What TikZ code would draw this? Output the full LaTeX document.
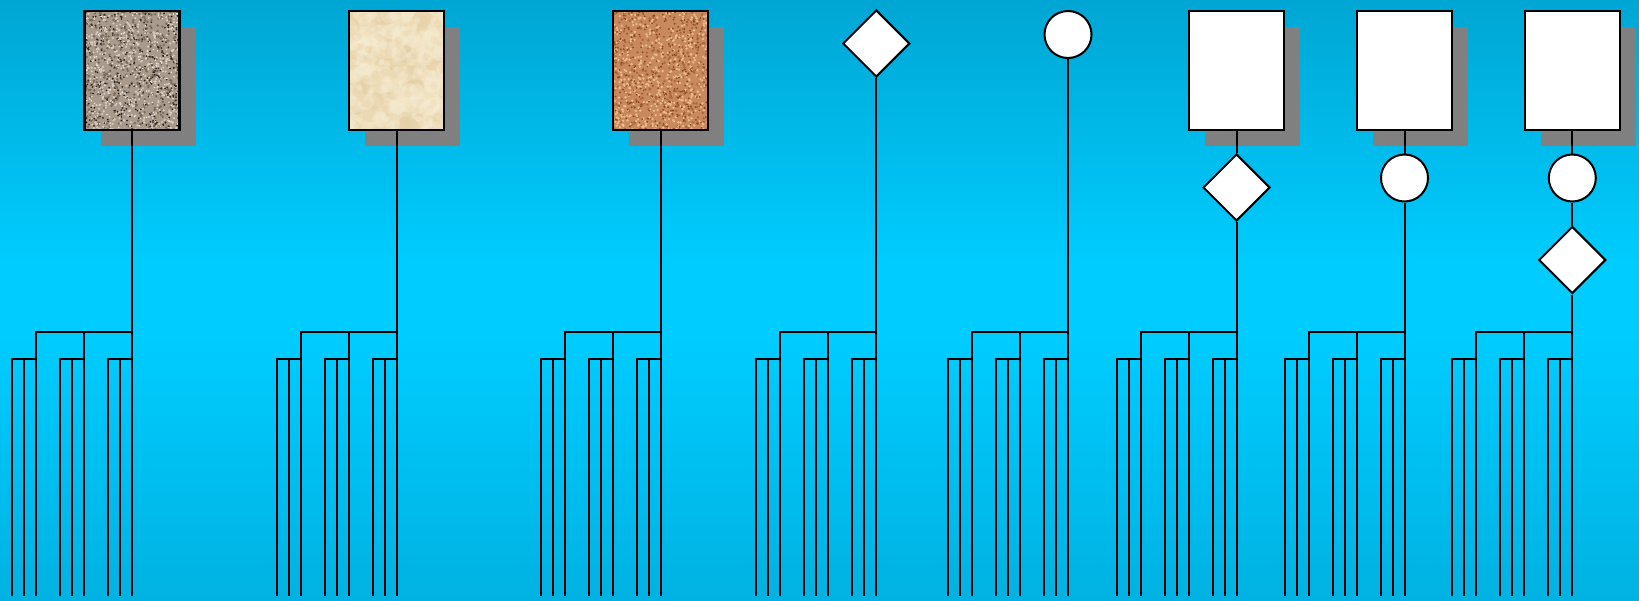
\documentclass[tikz,border=0pt]{standalone}
\usetikzlibrary{shapes.geometric,shadows}

\definecolor{bgtop}{HTML}{00A6D3}
\definecolor{bgmid}{HTML}{00CCFF}
\definecolor{bgbot}{HTML}{00B2E2}
\definecolor{shadowgray}{HTML}{808080}
% granite
\definecolor{grBase}{HTML}{A89A8C}
\definecolor{grDark}{HTML}{2E2620}
\definecolor{grMid}{HTML}{7A6A5C}
\definecolor{grLight}{HTML}{D8CCBE}
\definecolor{grWhite}{HTML}{EEE8E0}
% parchment
\definecolor{paBase}{HTML}{EFE0BE}
\definecolor{paLight}{HTML}{F7EDD4}
\definecolor{paDark}{HTML}{E2CDA2}
\definecolor{paWarm}{HTML}{ECD2A8}
% cork
\definecolor{coBase}{HTML}{C8895C}
\definecolor{coDark}{HTML}{8B4A25}
\definecolor{coMid}{HTML}{A9663C}
\definecolor{coLight}{HTML}{EBBB8C}

% sky background: brightest a little above the middle
\pgfdeclareverticalshading{skyshade}{100bp}{%
  color(0bp)=(bgbot); color(25bp)=(bgbot); color(47bp)=(bgmid);
  color(53bp)=(bgmid); color(75bp)=(bgtop); color(100bp)=(bgtop)}

% random speckles inside the current path picture
\newcommand\speckle[4][1]{%
  \foreach \k in {1,...,#2}{%
    \pgfmathsetmacro\rx{98*rnd}%
    \pgfmathsetmacro\ry{122*rnd}%
    \fill[#3, opacity=#1] ([shift={(\rx,\ry)}]path picture bounding box.north west) circle (#4);
  }}

% dendrogram hanging below a root at x = #2
\newcommand\dendro[3]{%
  % #1 name, #2 root x, #3 node above the root
  \coordinate (#1-j0) at (#2,332);
  \coordinate (#1-j1) at (#2-48,332);
  \coordinate (#1-j2) at (#2-96,332);
  \coordinate (#1-end) at (#2,596);
  \draw[link] (#3.south) -- (#1-end);
  \draw[link] (#1-j2 |- #1-end) -- (#1-j2) -- (#1-j0);
  \draw[link] (#1-j1) -- (#1-j1 |- #1-end);
  \foreach \g in {0,1,2}{%
    \coordinate (#1-h\g) at (#2-48*\g,359);
    \coordinate (#1-a\g) at (#2-48*\g-24,359);
    \coordinate (#1-b\g) at (#2-48*\g-12,359);
    \draw[link] (#1-a\g |- #1-end) -- (#1-a\g) -- (#1-h\g);
    \draw[link] (#1-b\g) -- (#1-b\g |- #1-end);
  }}

\tikzset{
  link/.style={line width=2pt, black},
  card/.style={rectangle, draw=black, line width=2.4pt, minimum width=95pt,
    minimum height=118.5pt, inner sep=0pt,
    drop shadow={shadow xshift=16pt, shadow yshift=-16pt, fill=shadowgray, opacity=1}},
  plain/.style={card, fill=white},
  granite/.style={card, fill=grBase, path picture={%
    \pgfmathsetseed{11}%
    \speckle{500}{grMid}{1.3}\speckle{450}{grLight}{1.2}%
    \speckle{340}{grDark}{0.95}\speckle{200}{grWhite}{0.8}}},
  parchment/.style={card, fill=paBase, path picture={%
    \pgfmathsetseed{22}%
    \speckle[0.35]{60}{paDark}{9}\speckle[0.4]{70}{paLight}{8}%
    \speckle[0.3]{120}{paWarm}{4}\speckle[0.3]{150}{paLight}{3}}},
  cork/.style={card, fill=coBase, path picture={%
    \pgfmathsetseed{33}%
    \speckle{400}{coMid}{1.3}\speckle{500}{coLight}{1.3}\speckle{300}{coDark}{1}}},
  gem/.style={diamond, draw=black, fill=white, line width=2pt, minimum width=67pt,
    minimum height=67pt, inner sep=0pt},
  dot/.style={circle, draw=black, fill=white, line width=2pt, minimum size=47pt,
    inner sep=0pt},
}

\begin{document}
\begin{tikzpicture}[x=1pt,y=-1pt]
  \useasboundingbox (0,0) rectangle (1639,600);
  \shade[shading=skyshade] (0,0) rectangle (1639,600);

  % top shapes
  \node[granite]   (s1) at (132,70.5) {};
  \node[parchment] (s2) at (396.5,70.5) {};
  \node[cork]      (s3) at (660.5,70.5) {};
  \node[gem]       (s4) at (876.3,43.5) {};
  \node[dot]       (s5) at (1068,34.5) {};

  \node[plain] (s6) at (1236.5,70.5) {};
  \node[plain] (s7) at (1404.5,70.5) {};
  \node[plain] (s8) at (1572.3,70.5) {};

  % intermediate shapes
  \node[gem] (s6d) at (1236.5,187.5) {};
  \node[dot] (s7c) at (1404.5,178) {};
  \node[dot] (s8c) at (1572.3,178) {};
  \node[gem] (s8d) at (1572.3,260) {};

  \draw[link] (s6.south) -- (s6d.north);
  \draw[link] (s7.south) -- (s7c.north);
  \draw[link] (s8.south) -- (s8c.north);
  \draw[link] (s8c.south) -- (s8d.north);

  % dendrograms
  \dendro{t1}{132}{s1}
  \dendro{t2}{396.5}{s2}
  \dendro{t3}{660.5}{s3}
  \dendro{t4}{876.3}{s4}
  \dendro{t5}{1068}{s5}
  \dendro{t6}{1236.5}{s6d}
  \dendro{t7}{1404.5}{s7c}
  \dendro{t8}{1572.3}{s8d}
\end{tikzpicture}
\end{document}
